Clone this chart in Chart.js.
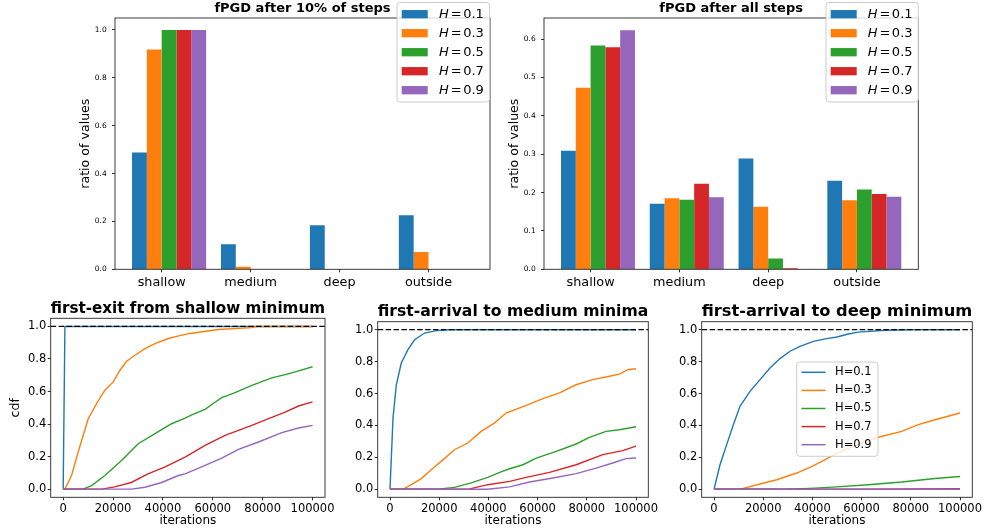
<!DOCTYPE html>
<html>
<head>
<meta charset="utf-8">
<script src="https://cdn.jsdelivr.net/npm/chart.js@4.4.1/dist/chart.umd.min.js"></script>
<style>
  html, body { margin: 0; padding: 0; background: #fff; }
  #fig { position: relative; width: 984px; height: 531px; overflow: hidden; }
  #fig canvas { position: absolute; left: 0; top: 0; }
</style>
</head>
<body>
<div id="fig">
  <canvas id="barEarly" width="984" height="531"></canvas>
  <canvas id="barFinal" width="984" height="531"></canvas>
  <canvas id="cdfExit" width="984" height="531"></canvas>
  <canvas id="cdfMedium" width="984" height="531"></canvas>
  <canvas id="cdfDeep" width="984" height="531"></canvas>
</div>
<script>
const minima = ["shallow", "medium", "deep", "outside"];
const hurst = ["0.1", "0.3", "0.5", "0.7", "0.9"];
const colors = ["#1f77b4", "#ff7f0e", "#2ca02c", "#d62728", "#9467bd"];

// ratio of runs per region after 10% of the steps (one array per H)
const early01 = [0.488, 0.105, 0.184, 0.226];
const early03 = [0.918, 0.011, 0.0, 0.072];
const early05 = [1.0, 0.0, 0.0, 0.0];
const early07 = [1.0, 0.0, 0.0, 0.0];
const early09 = [1.0, 0.0, 0.0, 0.0];

// ratio of runs per region after all steps
const final01 = [0.309, 0.171, 0.289, 0.231];
const final03 = [0.473, 0.185, 0.163, 0.180];
const final05 = [0.583, 0.181, 0.028, 0.208];
const final07 = [0.579, 0.223, 0.003, 0.196];
const final09 = [0.623, 0.188, 0.0, 0.189];

const earlyTicks = [0, 0.2, 0.4, 0.6, 0.8, 1.0];
const finalTicks = [0, 0.1, 0.2, 0.3, 0.4, 0.5, 0.6];
const iterTicks = [0, 20000, 40000, 60000, 80000, 100000];
const cdfTicks = [0, 0.2, 0.4, 0.6, 0.8, 1.0];

// empirical cdf curves, [iteration, cdf]
const exit01 = [[0, 0], [300, 0], [700, 1], [100000, 1]];
const exit03 = [[0, 0], [680, 0], [3370, 0.084], [6020, 0.228], [10040, 0.433], [13390, 0.526],
  [16730, 0.608], [20080, 0.659], [22770, 0.731], [25450, 0.786], [28800, 0.823], [32800, 0.864],
  [36800, 0.895], [42180, 0.926], [47530, 0.947], [50880, 0.957], [62260, 0.981], [75650, 0.9925],
  [77700, 1.0], [100000, 1.0]];
const exit05 = [[0, 0], [8000, 0], [11390, 0.022], [16730, 0.084], [23420, 0.176], [30110, 0.279],
  [36800, 0.341], [43490, 0.402], [48880, 0.437], [52000, 0.46], [56910, 0.49], [60000, 0.525],
  [63600, 0.562], [68940, 0.593], [75650, 0.638], [83690, 0.684], [89030, 0.704], [93060, 0.721],
  [100000, 0.752]];
const exit07 = [[0, 0], [15600, 0], [20620, 0.014], [27310, 0.041], [34000, 0.094], [40700, 0.136],
  [48880, 0.197], [56910, 0.269], [64940, 0.330], [75650, 0.392], [82340, 0.433], [89030, 0.474],
  [94390, 0.511], [100000, 0.536]];
const exit09 = [[0, 0], [27400, 0], [32800, 0.012], [39500, 0.041], [46200, 0.084], [48880, 0.094],
  [56910, 0.146], [63600, 0.191], [70300, 0.244], [78330, 0.290], [87700, 0.347], [94390, 0.376],
  [100000, 0.392]];

const medium01 = [[0, 0], [540, 0.196], [1220, 0.447], [2570, 0.655], [4590, 0.791], [7300, 0.875],
  [10000, 0.937], [14050, 0.979], [18780, 0.994], [24860, 1.0], [100000, 1.0]];
const medium03 = [[0, 0], [5270, 0], [8650, 0.029], [12700, 0.067], [16760, 0.123], [20810, 0.175],
  [26210, 0.248], [31620, 0.290], [37030, 0.363], [42430, 0.415], [47160, 0.478], [55400, 0.526],
  [62150, 0.568], [68910, 0.604], [75660, 0.655], [82420, 0.687], [89180, 0.708], [93240, 0.722],
  [96620, 0.749], [100000, 0.755]];
const medium05 = [[0, 0], [19500, 0], [26210, 0.012], [33000, 0.040], [39730, 0.075], [45130, 0.109],
  [48640, 0.129], [54050, 0.154], [59450, 0.196], [67560, 0.238], [75660, 0.284], [81070, 0.325],
  [87830, 0.363], [93240, 0.373], [100000, 0.392]];
const medium07 = [[0, 0], [31600, 0], [39730, 0.029], [48640, 0.050], [55400, 0.075], [64860, 0.106],
  [75660, 0.154], [86480, 0.217], [94590, 0.242], [100000, 0.271]];
const medium09 = [[0, 0], [39700, 0], [48640, 0.015], [56750, 0.046], [66210, 0.071], [75660, 0.098],
  [83770, 0.133], [90520, 0.165], [95930, 0.192], [100000, 0.196]];

const deep01 = [[0, 0], [400, 0], [2440, 0.154], [5150, 0.280], [7860, 0.405], [10570, 0.520],
  [14630, 0.614], [18700, 0.687], [22760, 0.760], [26830, 0.819], [30890, 0.865], [34960, 0.896],
  [40380, 0.927], [45800, 0.944], [50000, 0.954], [54600, 0.973], [58680, 0.985], [69520, 0.996],
  [80000, 1.0], [100000, 1.0]];
const deep03 = [[0, 0], [9200, 0], [11920, 0.006], [18700, 0.033], [25470, 0.060], [33600, 0.102],
  [39020, 0.138], [44440, 0.180], [50000, 0.227], [55000, 0.26], [60000, 0.29], [66800, 0.326],
  [76290, 0.363], [83060, 0.405], [89840, 0.436], [100000, 0.478]];
const deep05 = [[0, 0], [28200, 0], [39020, 0.006], [50000, 0.015], [62740, 0.029], [76290, 0.046],
  [89840, 0.068], [100000, 0.08]];
const deep07 = [[0, 0], [60000, 0], [100000, 0.004]];
const deep09 = [[0, 0], [100000, 0]];

Chart.defaults.font.family = "'DejaVu Sans', sans-serif";
Chart.defaults.color = "#000";

const W = 984, H = 531;
const titleSize = 16.5;

// box around the axes + optional dashed reference line
const frame = {
  id: "frame",
  afterDatasetsDraw(chart, args, opts) {
    const { ctx, chartArea: a } = chart;
    ctx.save();
    if (opts.hline !== undefined) {
      const y = chart.scales.y.getPixelForValue(opts.hline);
      ctx.strokeStyle = "#000";
      ctx.lineWidth = 1.3;
      ctx.setLineDash([5.5, 2.4]);
      ctx.beginPath();
      ctx.moveTo(a.left, y);
      ctx.lineTo(a.right, y);
      ctx.stroke();
      ctx.setLineDash([]);
    }
    ctx.strokeStyle = "#262626";
    ctx.lineWidth = 0.9;
    ctx.strokeRect(a.left, a.top, a.right - a.left, a.bottom - a.top);
    ctx.restore();
  }
};

// matplotlib-like legend box
const legendBox = {
  id: "legendBox",
  afterDraw(chart, args, o) {
    if (!o || !o.box) return;
    const ctx = chart.ctx, b = o.box;
    ctx.save();
    ctx.fillStyle = "rgba(255,255,255,0.8)";
    ctx.strokeStyle = "#cccccc";
    ctx.lineWidth = 1;
    ctx.beginPath();
    if (ctx.roundRect) ctx.roundRect(b.x, b.y, b.w, b.h, 3); else ctx.rect(b.x, b.y, b.w, b.h);
    ctx.fill();
    ctx.stroke();
    ctx.textBaseline = "middle";
    ctx.textAlign = "left";
    chart.data.datasets.forEach((ds, k) => {
      const y = o.rowY + k * o.rowGap;
      if (o.handle === "patch") {
        ctx.fillStyle = ds.backgroundColor;
        ctx.fillRect(o.hx, y - 4.15, o.hw, 8.3);
      } else {
        ctx.strokeStyle = ds.borderColor;
        ctx.lineWidth = 1.5;
        ctx.beginPath();
        ctx.moveTo(o.hx, y);
        ctx.lineTo(o.hx + o.hw, y);
        ctx.stroke();
      }
      ctx.fillStyle = "#000";
      const normal = o.size + "px 'DejaVu Sans'";
      if (o.math) {
        const [name, val] = ds.label.split("=");
        let x = o.tx;
        ctx.font = "italic " + normal;
        ctx.fillText(name, x, y);
        x += ctx.measureText(name).width + 2;
        ctx.font = normal;
        ctx.fillText("=", x, y);
        x += ctx.measureText("=").width + 1.5;
        ctx.fillText(val, x, y);
      } else {
        ctx.font = normal;
        ctx.fillText(ds.label, o.tx, y);
      }
    });
    ctx.restore();
  }
};

function tickGrid() {
  return { display: true, drawOnChartArea: false, offset: false, drawTicks: true,
           tickLength: 3, color: "#000", lineWidth: 0.8 };
}

function barChart(id, title, series, yTicks, yMax, area, legend) {
  const xPad = 0.608;
  return new Chart(document.getElementById(id), {
    type: "bar",
    data: {
      datasets: series.map((vals, k) => ({
        label: "H=" + hurst[k],
        data: vals.map((v, i) => ({ x: i, y: v })),
        backgroundColor: colors[k],
        borderWidth: 0,
        categoryPercentage: 5 / 6,
        barPercentage: 1
      }))
    },
    options: {
      responsive: false,
      animation: false,
      events: [],
      layout: { padding: { left: area.left - 40, right: W - area.right, top: 0, bottom: H - area.bottom - 30 } },
      plugins: {
        legend: { display: false },
        tooltip: { enabled: false },
        title: {
          display: true, text: title, fullSize: false,
          font: { size: 13, weight: "bold" },
          padding: { top: 1, bottom: area.top - 1 - 15.6 }
        },
        frame: {},
        legendBox: legend
      },
      scales: {
        x: {
          type: "linear", min: -xPad, max: minima.length - 1 + xPad, offset: false,
          grid: tickGrid(),
          border: { display: false },
          afterBuildTicks: s => { s.ticks = minima.map((m, i) => ({ value: i - 1 / 12 })); },
          ticks: { callback: (v, i) => minima[i], font: { size: 12.8 }, padding: 2.3,
                   maxRotation: 0, minRotation: 0, autoSkip: false },
          afterFit: s => { s.height = 30; }
        },
        y: {
          min: 0, max: yMax,
          grid: tickGrid(),
          border: { display: false },
          afterBuildTicks: s => { s.ticks = yTicks.map(v => ({ value: v })); },
          ticks: { callback: v => v.toFixed(1), font: { size: 7.5 }, padding: 5.3, autoSkip: false },
          title: { display: true, text: "ratio of values", font: { size: 12.6 }, padding: { top: 3.4, bottom: 0 } },
          afterFit: s => { s.width = 40; }
        }
      }
    },
    plugins: [frame, legendBox]
  });
}

function cdfChart(id, title, curves, area, titleMid, ylabel, legend) {
  const lh = titleSize * 1.2;
  const titleTop = titleMid - 290 - lh / 2;
  return new Chart(document.getElementById(id), {
    type: "line",
    data: {
      datasets: curves.map((pts, k) => ({
        label: "H=" + hurst[k],
        data: pts.map(([x, y]) => ({ x, y })),
        borderColor: colors[k],
        backgroundColor: colors[k],
        borderWidth: 1.4,
        pointRadius: 0,
        tension: 0,
        fill: false,
        order: -k
      }))
    },
    options: {
      responsive: false,
      animation: false,
      events: [],
      layout: { padding: { left: area.left - 45, right: W - area.right, top: 290, bottom: 0 } },
      plugins: {
        legend: { display: false },
        tooltip: { enabled: false },
        title: {
          display: true, text: title, fullSize: false,
          font: { size: titleSize, weight: "bold" },
          padding: { top: titleTop, bottom: area.top - 290 - titleTop - lh }
        },
        frame: { hline: 1 },
        legendBox: legend
      },
      scales: {
        x: {
          type: "linear", min: -5000, max: 105000,
          grid: tickGrid(),
          border: { display: false },
          afterBuildTicks: s => { s.ticks = iterTicks.map(v => ({ value: v })); },
          ticks: { callback: v => String(v), font: { size: 11.5 }, padding: 1.5,
                   maxRotation: 0, minRotation: 0, autoSkip: false },
          title: { display: true, text: "iterations", font: { size: 12 }, padding: { top: 0, bottom: 3 } },
          afterFit: s => { s.height = H - area.bottom; }
        },
        y: {
          min: -0.05, max: 1.05,
          grid: tickGrid(),
          border: { display: false },
          afterBuildTicks: s => { s.ticks = cdfTicks.map(v => ({ value: v })); },
          ticks: { callback: v => v.toFixed(1), font: { size: 11.5 }, padding: 1.5, autoSkip: false },
          title: { display: !!ylabel, text: ylabel || "", font: { size: 12.5 }, padding: { top: 2.6, bottom: 0 } },
          afterFit: s => { s.width = 45; }
        }
      }
    },
    plugins: [frame, legendBox]
  });
}

barChart("barEarly", "fPGD after 10% of steps",
  [early01, early03, early05, early07, early09], earlyTicks, 1.05,
  { left: 115, top: 18, right: 490, bottom: 269.3 },
  { box: { x: 397, y: 2.5, w: 92.5, h: 99.5 }, handle: "patch", hx: 401.7, hw: 26,
    tx: 439, rowY: 14.2, rowGap: 19, size: 13, math: true });

barChart("barFinal", "fPGD after all steps",
  [final01, final03, final05, final07, final09], finalTicks, 0.655,
  { left: 544, top: 18, right: 918.3, bottom: 269.3 },
  { box: { x: 826, y: 2.5, w: 92.3, h: 99.5 }, handle: "patch", hx: 830.7, hw: 26,
    tx: 867.7, rowY: 14.2, rowGap: 19, size: 13, math: true });

cdfChart("cdfExit", "first-exit from shallow minimum",
  [exit01, exit03, exit05, exit07, exit09],
  { left: 50.7, top: 318.3, right: 325, bottom: 497.3 }, 308.3, "cdf", null);

cdfChart("cdfMedium", "first-arrival to medium minima",
  [medium01, medium03, medium05, medium07, medium09],
  { left: 377.7, top: 321.7, right: 648.3, bottom: 497.3 }, 311.6, null, null);

cdfChart("cdfDeep", "first-arrival to deep minimum",
  [deep01, deep03, deep05, deep07, deep09],
  { left: 701.7, top: 321.7, right: 972.3, bottom: 497.3 }, 311.6, null,
  { box: { x: 796.7, y: 362, w: 81.3, h: 94.3 }, handle: "line", hx: 801.5, hw: 24,
    tx: 835, rowY: 372.3, rowGap: 18.1, size: 11.5, math: false });
</script>
</body>
</html>
